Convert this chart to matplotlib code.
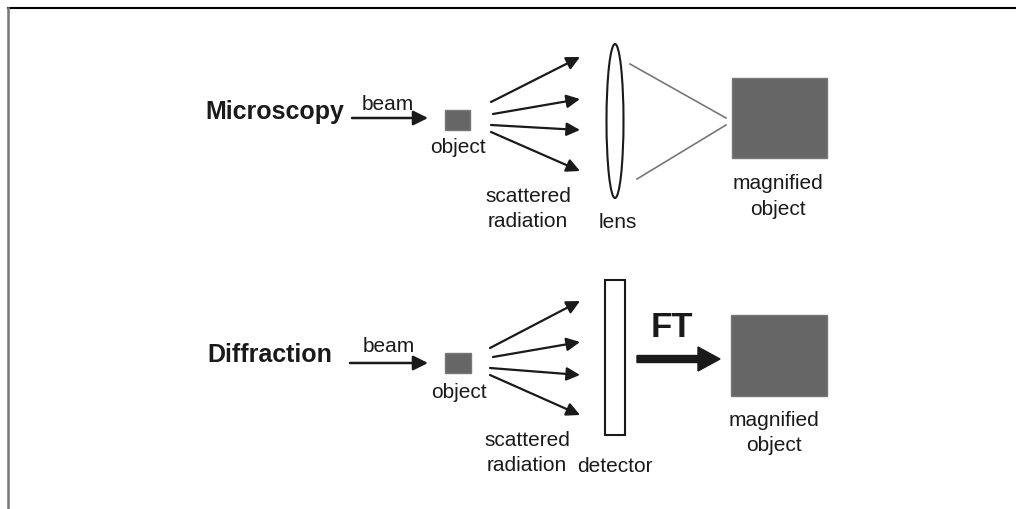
import matplotlib.pyplot as plt
from matplotlib.patches import Rectangle, Ellipse

plt.rcParams['font.family'] = ['Liberation Sans', 'DejaVu Sans']

# Поля схеми (верхній ряд - мікроскопія, нижній - дифракція)
row_titles = ['Microscopy', 'Diffraction']
row_title_x = [205, 207]
row_title_y = [112, 355]

beam_start = [(352, 119), (350, 364)]
beam_end = [(428, 119), (428, 364)]
beam_label_pos = [(388, 104), (389, 347)]

object_boxes = [(445, 111, 25, 20), (445, 354, 26, 20)]
object_label_pos = [(458, 148), (459, 393)]

scatter_starts = [
    [(491, 103), (493, 115), (491, 126), (491, 133)],
    [(490, 349), (493, 358), (490, 369), (490, 376)],
]
scatter_ends = [
    [(580, 58), (580, 100), (580, 131), (580, 172)],
    [(580, 302), (580, 343), (580, 376), (580, 416)],
]
scatter_label_pos = [(528, 197, 222), (527, 441, 466)]

magnified_boxes = [(732, 79, 95, 80), (731, 316, 96, 81)]
magnified_label_pos = [(778, 184, 210), (774, 421, 446)]

# лінза, промені від неї, детектор та FT
lens = (615, 122, 17, 154)
lens_rays = [((630, 65), (726, 119)), ((637, 180), (726, 126))]
detector = (605, 281, 20, 155)
ft_arrow = ((637, 360), (720, 360))

ink = '#1a1a1a'
grey = '#666666'
fs = 15

fig = plt.figure(figsize=(10.16, 5.10), dpi=100)
ax = fig.add_axes([0, 0, 1, 1])
ax.set_xlim(0, 1016)
ax.set_ylim(510, 0)
ax.axis('off')

# рамка
ax.plot([8, 1016], [9, 9], color='black', lw=1.5)
ax.plot([8, 8], [9, 510], color='#777777', lw=1.8)

for i in range(2):
    ax.text(row_title_x[i], row_title_y[i], row_titles[i], fontsize=18,
            fontweight='bold', color=ink, ha='left', va='center')
    ax.annotate('', xy=beam_end[i], xytext=beam_start[i],
                arrowprops=dict(arrowstyle='-|>', color=ink, lw=1.8,
                                mutation_scale=22, shrinkA=0, shrinkB=0))
    ax.text(*beam_label_pos[i], 'beam', fontsize=fs, color=ink,
            ha='center', va='center')
    x0, y0, w, h = object_boxes[i]
    ax.add_patch(Rectangle((x0, y0), w, h, facecolor=grey, edgecolor='#777777'))
    ax.text(*object_label_pos[i], 'object', fontsize=fs, color=ink,
            ha='center', va='center')
    for s, e in zip(scatter_starts[i], scatter_ends[i]):
        ax.annotate('', xy=e, xytext=s,
                    arrowprops=dict(arrowstyle='-|>', color=ink, lw=1.6,
                                    mutation_scale=20, shrinkA=0, shrinkB=0))
    sx, sy1, sy2 = scatter_label_pos[i]
    ax.text(sx, sy1, 'scattered', fontsize=fs, color=ink, ha='center', va='center')
    ax.text(sx, sy2, 'radiation', fontsize=fs, color=ink, ha='center', va='center')
    x0, y0, w, h = magnified_boxes[i]
    ax.add_patch(Rectangle((x0, y0), w, h, facecolor=grey, edgecolor='#777777'))
    mx, my1, my2 = magnified_label_pos[i]
    ax.text(mx, my1, 'magnified', fontsize=fs, color=ink, ha='center', va='center')
    ax.text(mx, my2, 'object', fontsize=fs, color=ink, ha='center', va='center')

# лінза
cx, cy, lw_, lh = lens
ax.add_patch(Ellipse((cx, cy), lw_, lh, facecolor='white', edgecolor=ink, lw=1.5))
ax.text(cx + 3, 223, 'lens', fontsize=fs, color=ink, ha='center', va='center')
for (a, b) in lens_rays:
    ax.plot([a[0], b[0]], [a[1], b[1]], color='#777777', lw=1.2)

# детектор
x0, y0, w, h = detector
ax.add_patch(Rectangle((x0, y0), w, h, facecolor='white', edgecolor=ink, lw=1.5))
ax.text(x0 + w / 2, 467, 'detector', fontsize=fs, color=ink, ha='center', va='center')

# FT
(fx0, fy), (fx1, _) = ft_arrow
ax.arrow(fx0, fy, fx1 - fx0, 0, width=7, head_width=24, head_length=22,
         length_includes_head=True, color=ink)
ax.text(672, 328, 'FT', fontsize=25, fontweight='bold', color=ink,
        ha='center', va='center')

fig.savefig('out.png', dpi=100)
